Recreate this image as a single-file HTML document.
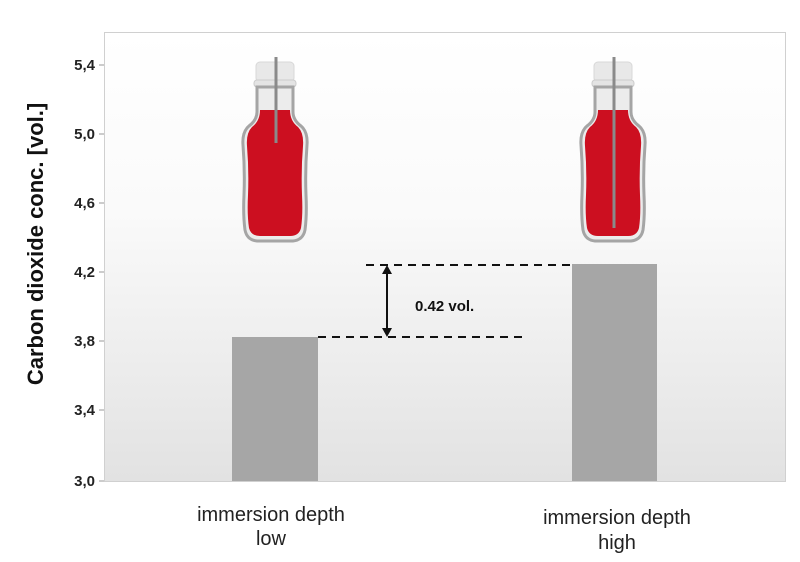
<!DOCTYPE html>
<html><head><style>
body{margin:0;background:#fff;}
svg{display:block;font-family:"Liberation Sans",Arial,sans-serif;}
</style></head><body>
<svg width="800" height="562" viewBox="0 0 800 562" xmlns="http://www.w3.org/2000/svg">
<defs>
<linearGradient id="bg" x1="0" y1="0" x2="0" y2="1">
<stop offset="0" stop-color="#ffffff"/><stop offset="0.4" stop-color="#fafafa"/><stop offset="1" stop-color="#e2e2e2"/>
</linearGradient>
<g id="bottle">
<rect x="-19" y="62" width="38" height="20" rx="4" fill="#e8e8e8" stroke="#d8d8d8"/>
<rect x="-21" y="80" width="42" height="7" rx="3" fill="#e4e4e4" stroke="#cccccc"/>
<path d="M-18 87 L-18 112 Q-18 120 -26 126 Q-33 132 -32 145 Q-30 170 -31 195 Q-32 215 -30 230 Q-28 240 -18 241 L18 241 Q28 240 30 230 Q32 215 31 195 Q30 170 32 145 Q33 132 26 126 Q18 120 18 112 L18 87 Z" fill="#ececec" stroke="#a5a5a5" stroke-width="3"/>
<path d="M-15 110 L15 110 Q15 121 23 127 Q29 133 28 146 Q26 170 27 195 Q28 215 26 228 Q24 236 15 236 L-15 236 Q-24 236 -26 228 Q-28 215 -27 195 Q-26 170 -28 146 Q-29 133 -23 127 Q-15 121 -15 110 Z" fill="#cc0f20"/>
</g>
</defs>
<rect x="104.5" y="32.5" width="681" height="449" fill="url(#bg)" stroke="#d0d0d0"/>
<g stroke="#999" stroke-width="1">
<line x1="99" y1="65" x2="104" y2="65"/><line x1="99" y1="134" x2="104" y2="134"/><line x1="99" y1="203" x2="104" y2="203"/><line x1="99" y1="272" x2="104" y2="272"/><line x1="99" y1="341" x2="104" y2="341"/><line x1="99" y1="410" x2="104" y2="410"/><line x1="99" y1="481" x2="104" y2="481"/>
</g>
<g font-size="15" font-weight="bold" fill="#222" text-anchor="end">
<text x="95" y="70">5,4</text><text x="95" y="139">5,0</text><text x="95" y="208">4,6</text><text x="95" y="277">4,2</text><text x="95" y="346">3,8</text><text x="95" y="415">3,4</text><text x="95" y="486">3,0</text>
</g>
<text transform="translate(43,244) rotate(-90)" text-anchor="middle" font-size="22" font-weight="bold" fill="#111">Carbon dioxide conc. [vol.]</text>
<rect x="232" y="337" width="86" height="144" fill="#a6a6a6"/>
<rect x="572" y="264" width="85" height="217" fill="#a6a6a6"/>
<use href="#bottle" x="275" y="0"/>
<line x1="276" y1="57" x2="276" y2="143" stroke="#8a8a8a" stroke-width="3"/>
<use href="#bottle" x="613" y="0"/>
<line x1="614" y1="57" x2="614" y2="228" stroke="#8a8a8a" stroke-width="3"/>
<g stroke="#111" stroke-width="2" stroke-dasharray="8,6">
<line x1="366" y1="265" x2="572" y2="265"/>
<line x1="318" y1="337" x2="525" y2="337"/>
</g>
<line x1="387" y1="270" x2="387" y2="332" stroke="#111" stroke-width="2"/>
<path d="M387 265 L382 274 L392 274 Z M387 337 L382 328 L392 328 Z" fill="#111"/>
<text x="415" y="311" font-size="15" font-weight="bold" fill="#111">0.42 vol.</text>
<g font-size="20" fill="#222" text-anchor="middle">
<text x="271" y="521">immersion depth</text><text x="271" y="545">low</text>
<text x="617" y="524">immersion depth</text><text x="617" y="549">high</text>
</g>
</svg>
</body></html>
